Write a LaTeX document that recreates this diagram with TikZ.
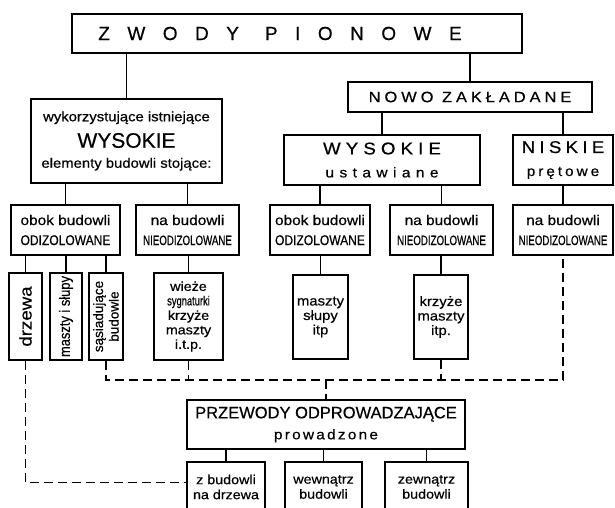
\documentclass[tikz,border=0pt]{standalone}
\usepackage{fontspec}
\setmainfont[FakeStretch=1.1, FakeBold=0.5]{Liberation Sans}
\newfontfamily\plainfont[FakeBold=0.5]{Liberation Sans}
\newfontfamily\narrowfont[FakeStretch=0.86, FakeBold=0.5]{Liberation Sans}
\newfontfamily\condfont[FakeStretch=0.72, FakeBold=0.6]{Liberation Sans}
\newcommand{\fs}[2]{\fontsize{#1}{#2}\selectfont}
\newcommand{\spaced}[1]{\addfontfeature{LetterSpace=#1}}

\begin{document}
\begin{tikzpicture}[x=1pt, y=-1pt,
  box/.style={draw, line width=1.6pt, inner sep=0pt, align=center, anchor=center},
  bigbox/.style={box, line width=2.6pt},
  link/.style={line width=1.4pt},
  dlink/.style={line width=1.4pt, dash pattern=on 9pt off 5pt}]
\useasboundingbox (0,0) rectangle (615,507);

% top
\node[bigbox, minimum width=450pt, minimum height=39pt,
  font=\plainfont\fs{19}{22}\spaced{92}] (zwody) at (297,33.5)
  {ZWODY\hspace*{26pt}PIONOWE\hspace*{34pt}};

% existing tall elements
\node[box, minimum width=191pt, minimum height=84pt, font=\fs{13.5}{16}] (istn) at (126.5,141)
  {wykorzystujące istniejące\\[8pt]
   {\fs{21}{22}\plainfont WYSOKIE}\\[4pt]
   elementy budowli stojące:};

% newly built
\node[box, minimum width=244pt, minimum height=30pt, font=\fs{15}{18}\spaced{26}] (nowo) at (470,97)
  {NOWO ZAKŁADANE};
\node[box, minimum width=196pt, minimum height=50pt, font=\fs{14}{23}] (ustaw) at (382,160)
  {{\fs{17}{22}\spaced{30}WYSOKIE}\\ {\spaced{39}ustawiane}};
\node[box, minimum width=100pt, minimum height=50pt, font=\fs{14}{23}] (niskie) at (563,160)
  {{\fs{17}{22}\spaced{25}NISKIE}\\ {\spaced{21}prętowe}};

% row 3
\node[box, minimum width=109pt, minimum height=50pt, font=\fs{14}{20}] (obokA) at (65.5,230)
  {obok budowli\\ {\narrowfont ODIZOLOWANE}};
\node[box, minimum width=103pt, minimum height=50pt, font=\fs{14}{20}] (naA) at (187.5,230)
  {na budowli\\ {\condfont\fs{13.5}{20}NIEODIZOLOWANE}};
\node[box, minimum width=100pt, minimum height=50pt, font=\fs{14}{20}] (obokB) at (320,230)
  {obok budowli\\ {\narrowfont ODIZOLOWANE}};
\node[box, minimum width=103pt, minimum height=50pt, font=\fs{14}{20}] (naB) at (441.5,230)
  {na budowli\\ {\condfont\fs{13.5}{20}NIEODIZOLOWANE}};
\node[box, minimum width=100pt, minimum height=50pt, font=\fs{14}{20}] (naC) at (563,230)
  {na budowli\\ {\condfont\fs{13.5}{20}NIEODIZOLOWANE}};

% row 4
\node[box, minimum width=33pt, minimum height=87pt, font=\fs{17}{20}] (drzewa) at (25.5,316.5)
  {\rotatebox{90}{drzewa}};
\node[box, minimum width=32pt, minimum height=87pt, font=\narrowfont\fs{15}{16}] (masztyA) at (66,316.5)
  {\rotatebox{90}{maszty i słupy}};
\node[box, minimum width=34pt, minimum height=87pt, font=\plainfont\fs{13.5}{13}] (sasiad) at (106,316.5)
  {\rotatebox{90}{\shortstack{sąsiadujące\\budowle}}};
\node[box, minimum width=69pt, minimum height=87pt, font=\fs{13}{14.5}] (wieze) at (188.5,316.5)
  {wieże\\ {\condfont sygnaturki}\\ krzyże\\ maszty\\ i.t.p.};
\node[box, minimum width=55pt, minimum height=84pt, font=\fs{13.5}{14.5}] (masztyB) at (320.5,317)
  {maszty\\ słupy\\ itp};
\node[box, minimum width=54pt, minimum height=84pt, font=\fs{13.5}{14.5}] (krzyze) at (441,317)
  {krzyże\\ maszty\\ itp.};

% conductors
\node[bigbox, minimum width=278pt, minimum height=49pt, font=\fs{14}{21}] (przew) at (326,424.5)
  {{\plainfont\fs{16.5}{21}PRZEWODY ODPROWADZAJĄCE}\\ {\spaced{16}prowadzone}};
\node[box, minimum width=78pt, minimum height=50pt, font=\fs{13}{15}] (zbud) at (226,487)
  {z budowli\\ na drzewa};
\node[box, minimum width=77pt, minimum height=50pt, font=\fs{13}{15}] (wewn) at (323.5,487)
  {wewnątrz\\ budowli};
\node[box, minimum width=83pt, minimum height=50pt, font=\fs{13}{15}] (zewn) at (426.5,487)
  {zewnątrz\\ budowli};

% links
\draw[link] (istn.north |- zwody.south) -- (istn.north);
\draw[link] (nowo.north |- zwody.south) -- (nowo.north);
\foreach \c in {ustaw,niskie} \draw[link] (\c.north |- nowo.south) -- (\c.north);
\foreach \c in {obokA,naA} \draw[link] (\c.north |- istn.south) -- (\c.north);
\foreach \c in {obokB,naB} \draw[link] (\c.north |- ustaw.south) -- (\c.north);
\draw[link] (naC.north |- niskie.south) -- (naC.north);
\foreach \c in {drzewa,masztyA,sasiad} \draw[link] (\c.north |- obokA.south) -- (\c.north);
\draw[link] (wieze.north |- naA.south) -- (wieze.north);
\draw[link] (masztyB.north |- obokB.south) -- (masztyB.north);
\draw[link] (krzyze.north |- naB.south) -- (krzyze.north);
\foreach \c in {zbud,wewn,zewn} \draw[link] (\c.north |- przew.south) -- (\c.north);

% dashed conductors
\coordinate (bus) at (326,380);
\draw[dlink] (sasiad.south) |- (bus) -| (naC.south);
\draw[dlink] (wieze.south) -- (wieze.south |- bus);
\draw[dlink] (krzyze.south) -- (krzyze.south |- bus);
\draw[dlink] (bus) -- (przew.north);
\draw[dlink] (drzewa.south) |- ([yshift=-21pt]zbud.north west);
\end{tikzpicture}
\end{document}
